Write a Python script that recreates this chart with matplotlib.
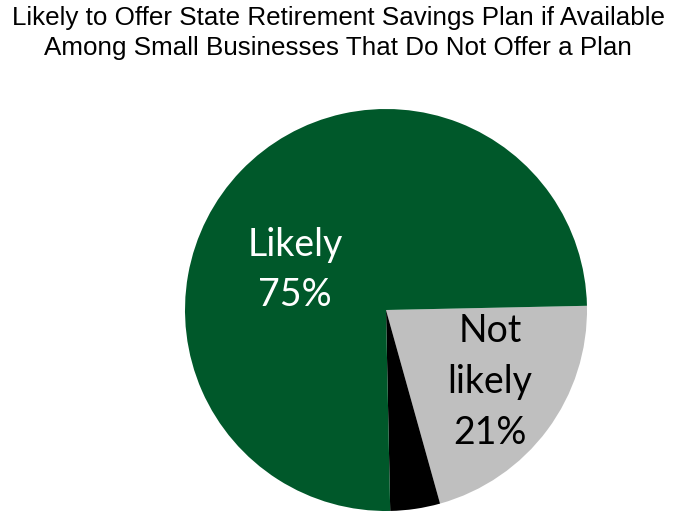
import matplotlib
matplotlib.use("Agg")
import matplotlib.pyplot as plt

labels = ["Not\nlikely\n21%", "", "Likely\n75%"]
values = [21, 4, 75]
colors = ["#BFBFBF", "#000000", "#00582A"]
title = "Likely to Offer State Retirement Savings Plan if Available\nAmong Small Businesses That Do Not Offer a Plan"

fig = plt.figure(figsize=(6.76, 5.15), dpi=100)
fig.patch.set_facecolor("white")

W, H = 676, 515
cx, cy, r = 386, 310, 201
ax = fig.add_axes([(cx - r) / W, (H - cy - r) / H, 2 * r / W, 2 * r / H])
wedges, _ = ax.pie(values, colors=colors, startangle=1.2, counterclock=False,
                   radius=1, wedgeprops=dict(linewidth=0))
ax.set_xlim(-1, 1)
ax.set_ylim(-1, 1)
ax.set_aspect("equal")
ax.axis("off")

def px(x, y):
    return ((x - cx) / r, (cy - y) / r)

x0, y0 = px(295, 270)
ax.text(x0, y0, labels[2], ha="center", va="center", fontsize=27,
        family="Lato", color="white", linespacing=1.5)
x1, y1 = px(490, 382)
ax.text(x1, y1, labels[0], ha="center", va="center", fontsize=27,
        family="Lato", color="black", linespacing=1.5)

fig.text(0.5, 1 - 33 / H, title, ha="center", va="center", fontsize=18.7,
         family="Liberation Sans", color="black", linespacing=1.3)

fig.savefig("out.png", dpi=100, facecolor="white")
